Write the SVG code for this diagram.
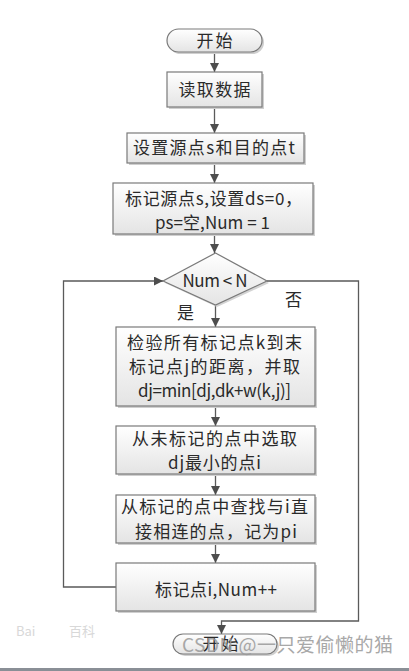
<svg xmlns="http://www.w3.org/2000/svg" width="409" height="671" viewBox="0 0 409 671">
<defs>
<linearGradient id="g" x1="0" y1="0" x2="0" y2="1">
<stop offset="0" stop-color="#ffffff"/>
<stop offset="1" stop-color="#e4e4e4"/>
</linearGradient>
<marker id="ah" viewBox="0 0 10 10" refX="10" refY="5" markerWidth="9" markerHeight="9" markerUnits="userSpaceOnUse" orient="auto">
<path d="M0,0 L10,5 L0,10 z" fill="#4d4d4d"/>
</marker>
</defs>
<style>
.box{fill:url(#g);stroke:#7a7a7a;stroke-width:1.2}
.sh{fill:#cfcfcf}
.t{font-family:"Noto Sans CJK SC","Noto Sans",sans-serif;font-size:17px;fill:#2a2a2a}
.c{fill:none;stroke:#5a5a5a;stroke-width:1.3}
.wm{font-family:"Noto Sans CJK SC","Liberation Sans",sans-serif;fill:#9a9a9a}
</style>
<rect x="0" y="0" width="409" height="671" fill="#ffffff"/>
<g id="connectors">
<path class="c" d="M214.5,52 V72" marker-end="url(#ah)"/>
<path class="c" d="M214.5,107 V133" marker-end="url(#ah)"/>
<path class="c" d="M214.5,163 V183" marker-end="url(#ah)"/>
<path class="c" d="M214.5,234 V253" marker-end="url(#ah)"/>
<path class="c" d="M215.5,305 V327" marker-end="url(#ah)"/>
<path class="c" d="M215.5,406 V426" marker-end="url(#ah)"/>
<path class="c" d="M215.5,474 V495" marker-end="url(#ah)"/>
<path class="c" d="M215.5,543 V563" marker-end="url(#ah)"/>
<path class="c" d="M116,587 H63.5 V281 H163" marker-end="url(#ah)"/>
<path class="c" d="M267,281 H358.5 V621 H221.5 V634" marker-end="url(#ah)"/>
</g>
<g id="start">
<rect class="sh" x="169" y="31" width="95" height="23" rx="11.5"/>
<rect class="box" x="167" y="29" width="95" height="23" rx="11.5"/>
<text class="t" x="214.5" y="46.5" text-anchor="middle" textLength="36" lengthAdjust="spacing">开始</text>
</g>
<g id="read">
<rect class="sh" x="169" y="74" width="95" height="35"/>
<rect class="box" x="167" y="72" width="95" height="35"/>
<text class="t" x="214.5" y="96" text-anchor="middle" textLength="72" lengthAdjust="spacing">读取数据</text>
</g>
<g id="setst">
<rect class="sh" x="129" y="135" width="177" height="30"/>
<rect class="box" x="127" y="133" width="177" height="30"/>
<text class="t" x="214" y="154" text-anchor="middle" textLength="162" lengthAdjust="spacing">设置源点s和目的点t</text>
</g>
<g id="mark">
<rect class="sh" x="115" y="185" width="200" height="51"/>
<rect class="box" x="113" y="183" width="200" height="51"/>
<text class="t" x="125" y="205" textLength="177" lengthAdjust="spacing">标记源点s,设置ds=0，</text>
<text class="t" x="155" y="229" textLength="115" lengthAdjust="spacing">ps=空,Num = 1</text>
</g>
<g id="cond">
<polygon points="217,255 269,283 217,307 165,283" fill="#d4d4d4"/>
<polygon points="215.5,253 267,281 215.5,305 163,281" fill="url(#g)" stroke="#7a7a7a" stroke-width="1.2"/>
<text class="t" x="215" y="287" text-anchor="middle" textLength="65" lengthAdjust="spacing">Num &lt; N</text>
<text class="t" x="177" y="319">是</text>
<text class="t" x="285" y="306">否</text>
</g>
<g id="check">
<rect class="sh" x="118" y="329" width="199" height="79"/>
<rect class="box" x="116" y="327" width="199" height="79"/>
<text class="t" x="127" y="349" textLength="175" lengthAdjust="spacing">检验所有标记点k到末</text>
<text class="t" x="129" y="373" textLength="171" lengthAdjust="spacing">标记点j的距离，并取</text>
<text class="t" x="138" y="397" textLength="153" lengthAdjust="spacing">dj=min[dj,dk+w(k,j)]</text>
</g>
<g id="select">
<rect class="sh" x="118" y="428" width="199" height="48"/>
<rect class="box" x="116" y="426" width="199" height="48"/>
<text class="t" x="132" y="445" textLength="165" lengthAdjust="spacing">从未标记的点中选取</text>
<text class="t" x="168" y="469" textLength="93" lengthAdjust="spacing">dj最小的点i</text>
</g>
<g id="find">
<rect class="sh" x="118" y="497" width="199" height="48"/>
<rect class="box" x="116" y="495" width="199" height="48"/>
<text class="t" x="121" y="513" textLength="187" lengthAdjust="spacing">从标记的点中查找与i直</text>
<text class="t" x="135" y="538" textLength="162" lengthAdjust="spacing">接相连的点，记为pi</text>
</g>
<g id="marki">
<rect class="sh" x="118" y="565" width="199" height="48"/>
<rect class="box" x="116" y="563" width="199" height="48"/>
<text class="t" x="155" y="596" textLength="122" lengthAdjust="spacing">标记点i,Num++</text>
</g>
<g id="end">
<rect class="sh" x="175" y="636" width="104" height="20" rx="10"/>
<rect class="box" x="173" y="634" width="104" height="20" rx="10"/>
<text class="t" x="220.5" y="650" text-anchor="middle" textLength="36" lengthAdjust="spacing">开始</text>
</g>
<g id="watermark">
<text class="wm" x="182" y="652" font-size="19" textLength="211" lengthAdjust="spacing" opacity="0.85">CSDN @一只爱偷懒的猫</text>
<text class="wm" x="16" y="636" font-size="13" style="fill:#d8d8d8">Bai</text>
<text class="wm" x="69" y="636" font-size="13" style="fill:#d8d8d8">百科</text>
<rect x="0" y="668" width="409" height="3" fill="#8a8f96"/>
</g>
</svg>
